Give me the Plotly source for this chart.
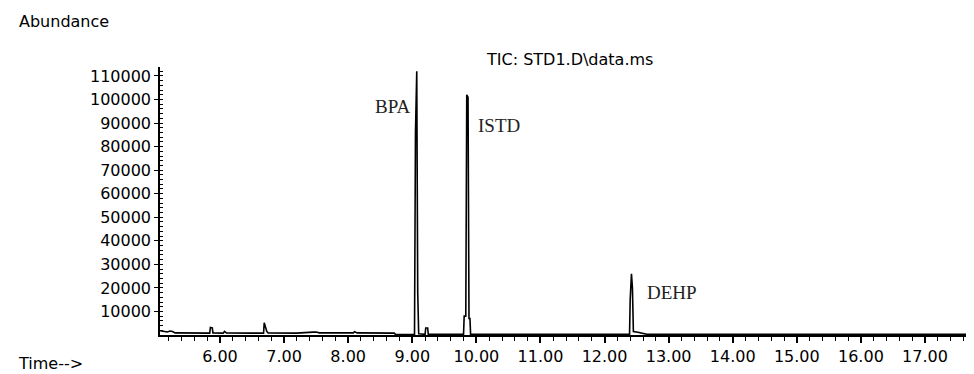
import plotly.graph_objects as go

# ---- data ----
rt_min = [5.065, 5.10, 5.14, 5.18, 5.22, 5.26, 5.30, 5.50, 5.84, 5.85, 5.88, 5.89, 6.05, 6.07,
          6.10, 6.50, 6.68, 6.69, 6.71, 6.73, 6.75, 7.20, 7.45, 7.50, 7.55, 8.08, 8.10, 8.14,
          8.72, 8.74, 9.035, 9.05, 9.07, 9.085, 9.10, 9.20, 9.21, 9.24, 9.25, 9.80, 9.81,
          9.835, 9.85, 9.87, 9.885, 9.90, 9.91, 12.39, 12.40, 12.42, 12.435, 12.45, 12.52,
          12.62, 12.66, 17.858]
abundance = [1800, 1600, 1200, 1300, 1700, 1500, 900, 800, 800, 3200, 3000, 900, 800, 1500,
             900, 800, 800, 5200, 3500, 1500, 900, 800, 1200, 1300, 900, 900, 1400, 900,
             800, 200, 300, 86000, 112000, 18000, 500, 300, 3000, 3000, 300, 300, 8000,
             8000, 102000, 101000, 7000, 7000, 300, 300, 15000, 26000, 20000, 1500, 1200,
             600, 300, 300]

peak_names = ["BPA", "ISTD", "DEHP"]
peak_label_rt = [8.69, 10.35, 13.06]
peak_label_abund = [97000, 89000, 17900]

x_ticks = [6, 7, 8, 9, 10, 11, 12, 13, 14, 15, 16, 17]
y_ticks = [10000, 20000, 30000, 40000, 50000, 60000, 70000, 80000, 90000, 100000, 110000]

W, H = 974, 374
L, R, T, B = 152, 2, 59, 47
pw, ph = W - L - R, H - T - B

def px(x):
    return (x - L) / pw

def py(y):
    return (H - B - y) / ph

fig = go.Figure()
fig.add_trace(go.Scatter(x=rt_min, y=abundance, mode="lines",
                         line=dict(color="black", width=1.6), hoverinfo="skip",
                         showlegend=False))

sans = "DejaVu Sans"
serif = "Liberation Serif"

for name, xr, yv in zip(peak_names, peak_label_rt, peak_label_abund):
    fig.add_annotation(x=xr, y=yv, xref="x", yref="y", text=name, showarrow=False,
                       font=dict(family=serif, size=19, color="#222222"), xanchor="center",
                       yanchor="middle")

fig.add_annotation(x=px(9), y=py(14), xref="paper", yref="paper", text="Abundance",
                   showarrow=False, xanchor="left", yanchor="middle",
                   font=dict(family=sans, size=16, color="black"))
fig.add_annotation(x=px(476), y=py(52), xref="paper", yref="paper", text="TIC: STD1.D\\data.ms",
                   showarrow=False, xanchor="left", yanchor="middle",
                   font=dict(family=sans, size=16, color="black"))
fig.add_annotation(x=px(8), y=py(355), xref="paper", yref="paper", text="Time-->",
                   showarrow=False, xanchor="left", yanchor="middle",
                   font=dict(family=sans, size=16, color="black"))

fig.update_layout(
    width=W, height=H,
    margin=dict(l=L, r=R, t=T, b=B, pad=0),
    paper_bgcolor="white", plot_bgcolor="white",
    font=dict(family=sans, size=16, color="black"),
    xaxis=dict(range=[5.064, 17.858], tickvals=x_ticks, tickformat=".2f",
               showgrid=False, zeroline=False, showline=True, linecolor="black", linewidth=1.5,
               ticks="outside", ticklen=6, tickwidth=1.5, tickcolor="black",
               minor=dict(dtick=0.2, ticks="outside", ticklen=4, tickwidth=1.2, tickcolor="black"),
               tickfont=dict(family=sans, size=16, color="black")),
    yaxis=dict(range=[0, 113800], tickvals=y_ticks, tickformat="d",
               showgrid=False, zeroline=False, showline=True, linecolor="black", linewidth=1.5,
               ticks="outside", ticklen=4, tickwidth=1.2, tickcolor="black",
               minor=dict(dtick=2000, ticks="inside", ticklen=3, tickwidth=1, tickcolor="black"),
               tickfont=dict(family=sans, size=16, color="black")),
)

fig.write_html("out.html")
